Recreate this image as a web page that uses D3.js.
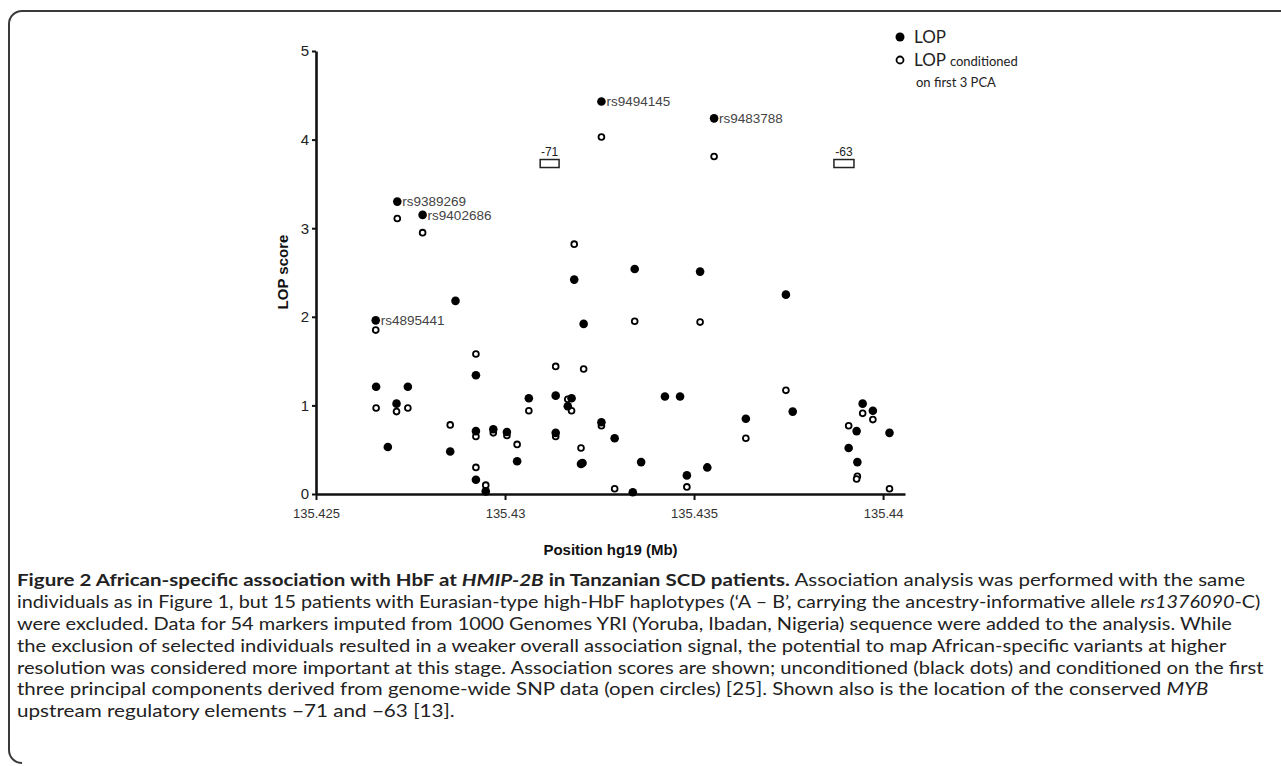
<!DOCTYPE html>
<html>
<head>
<meta charset="utf-8">
<script src="https://cdn.jsdelivr.net/npm/d3@7"></script>
<style>
  body { margin: 0; background: #fff; }
  svg { display: block; }
</style>
</head>
<body>
<svg width="1281" height="766"></svg>
<script>
// LOP scores, unconditioned (filled dots): [position Mb, score]
const lop = [
  [135.42658, 1.96], [135.42659, 1.21], [135.42743, 1.21], [135.42713, 1.02],
  [135.42690, 0.53], [135.42715, 3.30], [135.42782, 3.15], [135.42869, 2.18],
  [135.42855, 0.48], [135.42923, 1.34], [135.42923, 0.71], [135.42923, 0.16],
  [135.42949, 0.03], [135.42969, 0.73], [135.43005, 0.70], [135.43032, 0.37],
  [135.43063, 1.08], [135.43134, 1.11], [135.43134, 0.69], [135.43176, 1.08],
  [135.43166, 0.99], [135.43183, 2.42], [135.43208, 1.92], [135.43205, 0.35],
  [135.43201, 0.34], [135.43255, 4.43], [135.43255, 0.81], [135.43290, 0.63],
  [135.43338, 0.02], [135.43343, 2.54], [135.43360, 0.36], [135.43423, 1.10],
  [135.43463, 1.10], [135.43481, 0.21], [135.43516, 2.51], [135.43535, 0.30],
  [135.43553, 4.24], [135.43637, 0.85], [135.43743, 2.25], [135.43761, 0.93],
  [135.43909, 0.52], [135.43930, 0.71], [135.43932, 0.36], [135.43946, 1.02],
  [135.43973, 0.94], [135.44017, 0.69]
];

// LOP conditioned on first 3 PCA (open circles)
const lopPca = [
  [135.42658, 1.85], [135.42659, 0.97], [135.42713, 0.93], [135.42743, 0.97],
  [135.42715, 3.11], [135.42782, 2.95], [135.42855, 0.78], [135.42923, 1.58],
  [135.42923, 0.65], [135.42923, 0.30], [135.42949, 0.10], [135.42969, 0.69],
  [135.43005, 0.66], [135.43032, 0.56], [135.43063, 0.94], [135.43134, 1.44],
  [135.43134, 0.65], [135.43166, 1.07], [135.43176, 0.94], [135.43183, 2.82],
  [135.43208, 1.41], [135.43201, 0.52], [135.43255, 4.03], [135.43255, 0.77],
  [135.43290, 0.06], [135.43343, 1.95], [135.43481, 0.08], [135.43516, 1.94],
  [135.43553, 3.81], [135.43637, 0.63], [135.43743, 1.17], [135.43909, 0.77],
  [135.43932, 0.20], [135.43930, 0.17], [135.43946, 0.91], [135.43973, 0.84],
  [135.44017, 0.06]
];

// named SNPs
const snps = [
  { name: 'rs4895441', pos: 135.42658, lop: 1.96 },
  { name: 'rs9389269', pos: 135.42715, lop: 3.30 },
  { name: 'rs9402686', pos: 135.42782, lop: 3.15 },
  { name: 'rs9494145', pos: 135.43255, lop: 4.43 },
  { name: 'rs9483788', pos: 135.43553, lop: 4.24 }
];

// MYB upstream regulatory elements
const elements = [
  { name: '-71', start: 135.43093, end: 135.43143 },
  { name: '-63', start: 135.43870, end: 135.43923 }
];
const elementLevel = 3.73;

const xTicks = [135.425, 135.43, 135.435, 135.44];
const yTicks = [0, 1, 2, 3, 4, 5];

const captionLines = [
  [['b', 'Figure 2 African-specific association with HbF at '], ['bi', 'HMIP-2B'], ['b', ' in Tanzanian SCD patients.'], ['', ' Association analysis was performed with the same']],
  [['', 'individuals as in Figure 1, but 15 patients with Eurasian-type high-HbF haplotypes (\u2018A \u2013 B\u2019, carrying the ancestry-informative allele '], ['i', 'rs1376090'], ['', '-C)']],
  [['', 'were excluded. Data for 54 markers imputed from 1000 Genomes YRI (Yoruba, Ibadan, Nigeria) sequence were added to the analysis. While']],
  [['', 'the exclusion of selected individuals resulted in a weaker overall association signal, the potential to map African-specific variants at higher']],
  [['', 'resolution was considered more important at this stage. Association scores are shown; unconditioned (black dots) and conditioned on the first']],
  [['', 'three principal components derived from genome-wide SNP data (open circles) [25]. Shown also is the location of the conserved '], ['i', 'MYB']],
  [['', 'upstream regulatory elements \u221271 and \u221263 [13].']]
];
// right end of each caption line in the original
const captionEnds = [1246, 1261, 1233, 1227, 1264, 1209, 455];

const svg = d3.select('svg');

// figure frame
svg.append('path')
  .attr('d', 'M1281,11 H22 A13,13 0 0 0 9,24 V750 A13,13 0 0 0 22,763')
  .attr('fill', 'none')
  .attr('stroke', '#3a3a3a')
  .attr('stroke-width', 2);

const x = d3.scaleLinear().domain([135.425, 135.44058]).range([316, 905]);
const y = d3.scaleLinear().domain([0, 5]).range([494, 51]);

const gy = svg.append('g')
  .attr('transform', `translate(${x.range()[0]},0)`)
  .call(d3.axisLeft(y).tickValues(yTicks).tickFormat(d3.format('d')).tickSize(4).tickSizeOuter(0).tickPadding(3));
gy.select('.domain').attr('stroke', '#111').attr('stroke-width', 2.6);
gy.selectAll('.tick line').attr('stroke', '#111').attr('stroke-width', 2);
gy.selectAll('.tick text')
  .attr('font-family', 'Liberation Sans, Arial, sans-serif')
  .attr('font-size', 15)
  .attr('fill', '#222');

const gx = svg.append('g')
  .attr('transform', `translate(0,${y(0)})`)
  .call(d3.axisBottom(x).tickValues(xTicks).tickFormat(d => d3.format('.3~f')(d)).tickSize(6).tickSizeOuter(0).tickPadding(9));
gx.select('.domain').attr('stroke', '#111').attr('stroke-width', 2.6);
gx.selectAll('.tick line').attr('stroke', '#111').attr('stroke-width', 2);
gx.selectAll('.tick text')
  .attr('font-family', 'Liberation Sans Narrow, Liberation Sans, Arial, sans-serif')
  .attr('font-size', 13)
  .attr('fill', '#333');

svg.append('text')
  .attr('x', (x.range()[0] + x.range()[1]) / 2)
  .attr('y', 555)
  .attr('text-anchor', 'middle')
  .attr('font-family', 'Liberation Sans, Arial, sans-serif')
  .attr('font-weight', 'bold')
  .attr('font-size', 15)
  .attr('fill', '#111')
  .text('Position hg19 (Mb)');

svg.append('text')
  .attr('transform', 'translate(288,272) rotate(-90)')
  .attr('text-anchor', 'middle')
  .attr('font-family', 'Liberation Sans, Arial, sans-serif')
  .attr('font-weight', 'bold')
  .attr('font-size', 15)
  .attr('fill', '#111')
  .text('LOP score');

// regulatory element boxes
const el = svg.append('g');
el.selectAll('rect')
  .data(elements)
  .enter().append('rect')
  .attr('x', d => x(d.start))
  .attr('y', y(elementLevel) - 4)
  .attr('width', d => x(d.end) - x(d.start))
  .attr('height', 8)
  .attr('fill', 'none')
  .attr('stroke', '#222')
  .attr('stroke-width', 1.5);
el.selectAll('text')
  .data(elements)
  .enter().append('text')
  .attr('x', d => x((d.start + d.end) / 2))
  .attr('y', y(elementLevel) - 8)
  .attr('text-anchor', 'middle')
  .attr('font-family', 'Liberation Sans, Arial, sans-serif')
  .attr('font-size', 12)
  .attr('fill', '#222')
  .text(d => d.name);

// open circles
svg.append('g')
  .selectAll('circle')
  .data(lopPca)
  .enter().append('circle')
  .attr('cx', d => x(d[0]))
  .attr('cy', d => y(d[1]))
  .attr('r', 2.9)
  .attr('fill', '#fff')
  .attr('stroke', '#000')
  .attr('stroke-width', 1.8);

// filled dots
svg.append('g')
  .selectAll('circle')
  .data(lop)
  .enter().append('circle')
  .attr('cx', d => x(d[0]))
  .attr('cy', d => y(d[1]))
  .attr('r', 4.3)
  .attr('fill', '#000');

svg.append('g')
  .selectAll('text')
  .data(snps)
  .enter().append('text')
  .attr('x', d => x(d.pos) + 5)
  .attr('y', d => y(d.lop))
  .attr('dy', '0.34em')
  .attr('font-family', 'Liberation Sans, Arial, sans-serif')
  .attr('font-size', 13.5)
  .attr('fill', '#444')
  .text(d => d.name);

// legend
const lg = svg.append('g').attr('font-family', 'Lato, Open Sans, sans-serif').attr('fill', '#222');
lg.append('circle').attr('cx', 900).attr('cy', 37).attr('r', 4.5).attr('fill', '#000');
lg.append('text').attr('x', 914).attr('y', 37).attr('dy', '0.36em').attr('font-size', 17).text('LOP');
lg.append('circle').attr('cx', 900).attr('cy', 60).attr('r', 3.5).attr('fill', '#fff').attr('stroke', '#000').attr('stroke-width', 1.8);
const lt = lg.append('text').attr('x', 914).attr('y', 60).attr('dy', '0.36em').attr('font-size', 17);
lt.append('tspan').text('LOP ');
lt.append('tspan').attr('font-size', 13).text('conditioned');
lg.append('text').attr('x', 916).attr('y', 82).attr('dy', '0.36em').attr('font-size', 13).text('on first 3 PCA');

// caption: each line stretched so it ends where the original line ends
const capX = 17;
const cap = svg.append('g')
  .attr('font-family', 'Lato, Noto Sans, sans-serif')
  .attr('font-size', 17.5)
  .attr('fill', '#222');
captionLines.forEach((parts, i) => {
  const row = cap.append('g');
  const t = row.append('text')
    .attr('x', 0)
    .attr('y', 586 + i * 21.9);
  parts.forEach(([style, str]) => {
    t.append('tspan')
      .attr('font-weight', style.includes('b') ? 'bold' : null)
      .attr('font-style', style.includes('i') ? 'italic' : null)
      .text(str);
  });
  const w = t.node().getComputedTextLength();
  const sx = w > 0 ? (captionEnds[i] - capX) / w : 1;
  row.attr('transform', `translate(${capX},0) scale(${sx},1)`);
});
</script>
</body>
</html>
